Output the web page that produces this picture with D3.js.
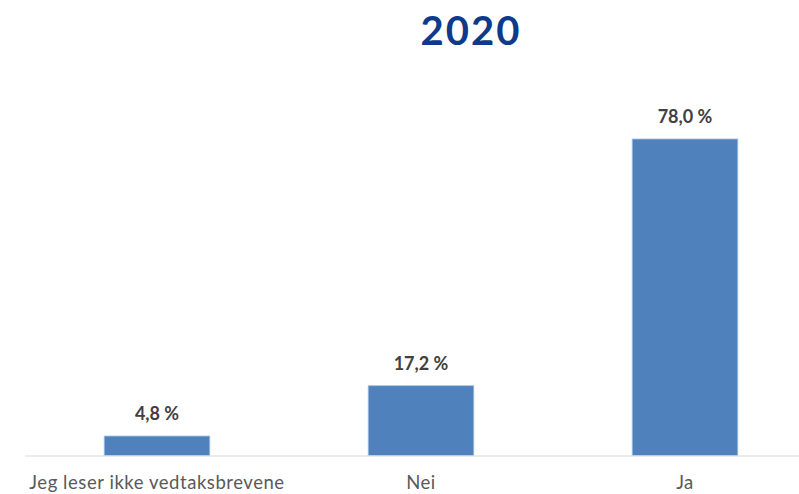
<!DOCTYPE html>
<html>
<head>
<meta charset="utf-8">
<script src="https://cdn.jsdelivr.net/npm/d3@7"></script>
<style>
  html, body { margin: 0; padding: 0; background: #ffffff; }
  svg { display: block; font-family: Lato, "Open Sans", sans-serif; }
</style>
</head>
<body>
<svg id="chart" width="799" height="494"></svg>
<script>
// Survey answers for 2020
const title = "2020";
const categories = ["Jeg leser ikke vedtaksbrevene", "Nei", "Ja"];
const values = [4.8, 17.2, 78.0];

const W = 799, H = 494;
const svg = d3.select("#chart");

const x = d3.scaleBand()
  .domain(categories)
  .range([25, 817])
  .paddingInner(0.6)
  .paddingOuter(0.3);

const y = d3.scaleLinear()
  .domain([0, 100])
  .range([455.5, 49.7]);

const fmt = v => d3.format(".1f")(v).replace(".", ",") + " %";

// Title
svg.append("text")
  .attr("x", 471)
  .attr("y", 45)
  .attr("text-anchor", "middle")
  .attr("fill", "#0d3a8a")
  .attr("font-weight", "bold")
  .attr("font-size", 40)
  .attr("letter-spacing", 2)
  .text(title);

// Bars
svg.append("g")
  .selectAll("rect")
  .data(values)
  .join("rect")
  .attr("x", (d, i) => x(categories[i]))
  .attr("y", d => y(d))
  .attr("width", x.bandwidth())
  .attr("height", d => y(0) - y(d))
  .attr("fill", "#4f81bd")
  .attr("stroke", "#a9c1de")
  .attr("stroke-width", 0.8);

// Baseline
svg.append("line")
  .attr("x1", 25).attr("x2", W)
  .attr("y1", y(0) + 0.5).attr("y2", y(0) + 0.5)
  .attr("stroke", "#d9d9d9")
  .attr("stroke-width", 1);

// Value labels
svg.append("g")
  .selectAll("text")
  .data(values)
  .join("text")
  .attr("x", (d, i) => x(categories[i]) + x.bandwidth() / 2)
  .attr("y", d => y(d) - 16)
  .attr("text-anchor", "middle")
  .attr("fill", "#404040")
  .attr("font-weight", "bold")
  .attr("font-size", 18)
  .text(d => fmt(d));

// Category labels
svg.append("g")
  .selectAll("text")
  .data(categories)
  .join("text")
  .attr("x", d => x(d) + x.bandwidth() / 2)
  .attr("y", 489)
  .attr("text-anchor", "middle")
  .attr("fill", "#595959")
  .attr("font-size", 18.5)
  .attr("letter-spacing", 0.55)
  .text(d => d);
</script>
</body>
</html>
